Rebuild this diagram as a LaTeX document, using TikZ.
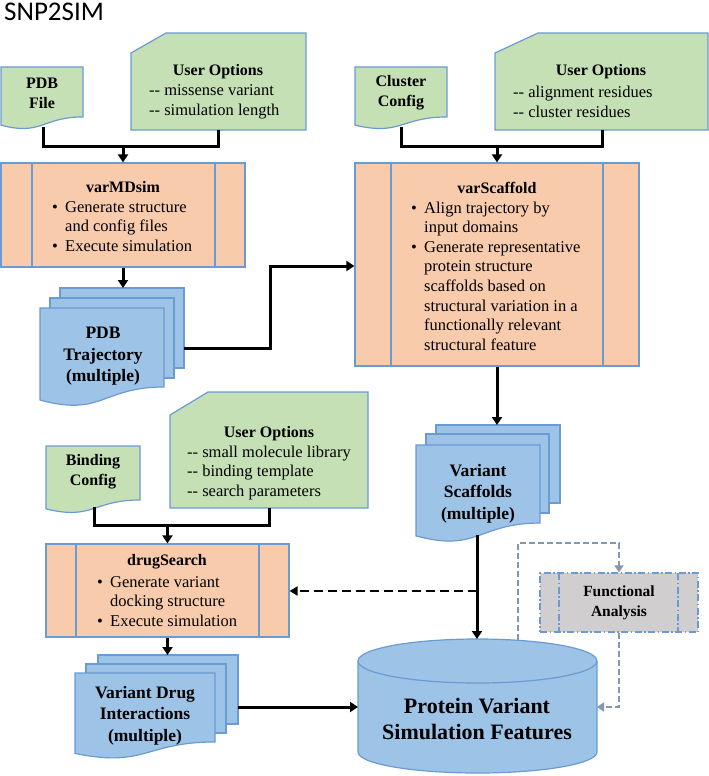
\documentclass[tikz,border=0pt]{standalone}
\usepackage{fontspec}
\setmainfont{Liberation Serif}
\newfontfamily\titlefont{Carlito}
\usetikzlibrary{arrows.meta}
\definecolor{bord}{HTML}{6A9BD3}
\definecolor{gfill}{HTML}{C5E0B4}
\definecolor{ofill}{HTML}{F8CBAD}
\definecolor{bfill}{HTML}{9DC3E6}
\definecolor{grfill}{HTML}{D0CECE}
\definecolor{garrow}{HTML}{8496B0}
\newcommand\mydoc[5]{\draw[shp,fill=#1] (#2,#3) -- (#4,#3) -- (#4,{#3+0.802*#5}) .. controls ({(#2+#4)/2},{#3+0.802*#5}) and ({(#2+#4)/2},{#3+1.107*#5}) .. (#2,{#3+0.934*#5}) -- cycle;}
\newcommand\mycard[6]{\draw[shp,fill=gfill] (#1,#2) -- (#3,#4) -- (#5,#4) -- (#5,#6) -- (#1,#6) -- cycle;}
\newcommand\mybul{\makebox[13pt][l]{\textbullet}}
\newcommand\myind{\hspace*{13pt}}
\begin{document}
\begin{tikzpicture}[x=1pt,y=-1pt,
 shp/.style={draw=bord,line width=1.2pt,line join=miter},
 blk/.style={line width=3pt,draw=black},
 conn/.style={blk,-{Triangle[length=8pt,width=10pt]}},
 dconn/.style={draw=black,line width=2.2pt,dash pattern=on 9pt off 5pt,-{Triangle[length=8pt,width=9pt]}},
 gconn/.style={draw=garrow,line width=1.8pt,dash pattern=on 6pt off 3pt,-{Triangle[length=7pt,width=9pt]}},
 ddot/.style={draw=bord,line width=1.3pt,dash pattern=on 7pt off 2.5pt on 1.5pt off 2.5pt},
 txt/.style={inner sep=0pt,align=left,font=\fontsize{16.5}{19.6}\selectfont},
 btxt/.style={inner sep=0pt,align=center,font=\bfseries\fontsize{16}{20}\selectfont},
 mtxt/.style={inner sep=0pt,align=center,font=\bfseries\fontsize{17.5}{21.5}\selectfont},
]
\useasboundingbox (0,0) rectangle (709,776);
% title
\node[anchor=base west,inner sep=0pt,font=\titlefont\fontsize{27}{30}\selectfont] (title) at (4,21) {SNP2SIM};

% input documents and cards
\mydoc{gfill}{1}{67}{83}{62.3}
\mycard{131}{53}{166}{33}{306}{130}
\mydoc{gfill}{355}{67}{447}{62.3}
\mycard{495}{53}{538}{33}{708}{130}
\mydoc{gfill}{46}{446}{140}{67.3}
\mycard{170}{415}{208}{392}{368}{508}

% process boxes
\node[shp,fill=ofill,minimum width=244pt,minimum height=104pt,inner sep=0pt] (vmd) at (123,215) {};
\draw[shp] (32,163) -- (32,267) (215,163) -- (215,267);
\node[shp,fill=ofill,minimum width=284pt,minimum height=203pt,inner sep=0pt] (vsc) at (497,264.5) {};
\draw[shp] (391,163) -- (391,366) (603,163) -- (603,366);
\node[shp,fill=ofill,minimum width=243pt,minimum height=93pt,inner sep=0pt] (dsr) at (167.5,590.5) {};
\draw[shp] (76,544) -- (76,637) (259,544) -- (259,637);
\node[ddot,fill=grfill,minimum width=158pt,minimum height=59pt,inner sep=0pt] (fa) at (619,602.5) {};
\draw[ddot] (559,573) -- (559,632) (678,573) -- (678,632);

% multi documents
\draw[shp,fill=bfill] (60,288) rectangle (184,368);
\draw[shp,fill=bfill] (50,298) rectangle (174,378);
\mydoc{bfill}{40}{308}{164}{98.5}
\draw[shp,fill=bfill] (436,425) rectangle (560,503);
\draw[shp,fill=bfill] (426,434) rectangle (549,513);
\mydoc{bfill}{416}{445}{540}{97.3}
\draw[shp,fill=bfill] (98,655) rectangle (238,724);
\draw[shp,fill=bfill] (86,664) rectangle (226,733);
\mydoc{bfill}{75}{673}{215}{86}

% cylinder
\fill[bfill] (358,661) -- (358,752) arc[start angle=180,end angle=0,x radius=119.5,y radius=21] -- (597,661) -- cycle;
\draw[shp] (358,661) -- (358,752) arc[start angle=180,end angle=0,x radius=119.5,y radius=21] -- (597,661);
\draw[shp,fill=bfill] (477.5,661) ellipse [x radius=119.5,y radius=22];

% connector coordinates
\coordinate (pdbf-b) at (43,127);
\coordinate (uo1-b) at (218,130);
\coordinate (j1) at (123,146);
\coordinate (cc-b) at (401,127);
\coordinate (uo2-b) at (602,130);
\coordinate (j2) at (497,146);
\coordinate (bc-b) at (94,507);
\coordinate (uo3-b) at (269,508);
\coordinate (j3) at (167.5,525);
\coordinate (tr-t) at (123,288);
\coordinate (tr-r) at (184,348);
\coordinate (k1) at (270,266);
\coordinate (vs-t) at (497,425);
\coordinate (vs-b) at (477,535);
\coordinate (cyl-t) at (477,639);
\coordinate (dj) at (477,591);
\coordinate (vdi-t) at (167.5,655);
\coordinate (vdi-r) at (238,707);
\coordinate (cyl-l) at (358,707);
\coordinate (cyl-r) at (597,707);
\coordinate (g0) at (518,640);
\coordinate (g1) at (518,543);

% connectors
\draw[blk] (pdbf-b) |- (j1) -| (uo1-b);
\draw[conn] (j1) -- (vmd.north);
\draw[blk] (cc-b) |- (j2) -| (uo2-b);
\draw[conn] (j2) -- (vsc.north);
\draw[blk] (bc-b) |- (j3) -| (uo3-b);
\draw[conn] (j3) -- (dsr.north);
\draw[conn] (vmd.south) -- (tr-t);
\draw[conn] (tr-r) -| (k1) -- (k1 -| vsc.west);
\draw[conn] (vsc.south) -- (vs-t);
\draw[conn] (vs-b) -- (cyl-t);
\draw[dconn] (dj) -- (dj -| dsr.east);
\draw[conn] (dsr.south) -- (vdi-t);
\draw[conn] (vdi-r) -- (cyl-l);
\draw[gconn] (g0) -- (g1) -| (fa.north);
\draw[gconn] (fa.south) |- (cyl-r);

% texts
\node[btxt] (pdbf) at (42,93) {PDB\\File};
\node[btxt] (cc) at (401,93) {Cluster\\Config};
\node[btxt] (bc) at (93,472) {Binding\\Config};
\node[btxt] (uo1t) at (218,72) {User Options};
\node[txt,anchor=west] (uo1l) at (149,102) {-{}- missense variant\\-{}- simulation length};
\node[btxt] (uo2t) at (601,72) {User Options};
\node[txt,anchor=west] (uo2l) at (513,102) {-{}- alignment residues\\-{}- cluster residues};
\node[btxt] (uo3t) at (269,434) {User Options};
\node[txt,anchor=west] (uo3l) at (187,473) {-{}- small molecule library\\-{}- binding template\\-{}- search parameters};
\node[btxt] (vmdt) at (123,187) {varMDsim};
\node[txt,anchor=west] (vmdl) at (52,226.5) {\mybul Generate structure\\\myind and config files\\\mybul Execute simulation};
\node[btxt] (vsct) at (497,188) {varScaffold};
\node[txt,anchor=west] (vscl) at (411,276) {\mybul Align trajectory by\\\myind input domains\\\mybul Generate representative\\\myind protein structure\\\myind scaffolds based on\\\myind structural variation in a\\\myind functionally relevant\\\myind structural feature};
\node[btxt] (dsrt) at (167,562) {drugSearch};
\node[txt,anchor=west] (dsrl) at (97,601.5) {\mybul Generate variant\\\myind docking structure\\\mybul Execute simulation};
\node[mtxt] (tr) at (103,356.5) {PDB\\Trajectory\\(multiple)};
\node[mtxt] (vs) at (478,493.5) {Variant\\Scaffolds\\(multiple)};
\node[mtxt] (vdi) at (145,715.5) {Variant Drug\\Interactions\\(multiple)};
\node[inner sep=0pt,align=center,font=\bfseries\fontsize{15.5}{20}\selectfont] (fat) at (619,603) {Functional\\Analysis};
\node[inner sep=0pt,align=center,font=\bfseries\fontsize{22}{26}\selectfont] (cyl) at (477,719) {Protein Variant\\Simulation Features};
\end{tikzpicture}
\end{document}
